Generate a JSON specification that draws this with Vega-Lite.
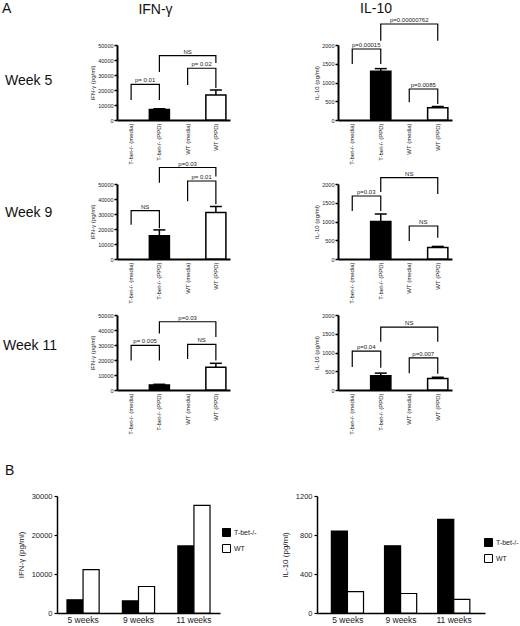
{
  "$schema": "https://vega.github.io/schema/vega-lite/v6.json",
  "autosize": {"type": "none"},
  "padding": {"left": 57, "top": 45, "right": 463, "bottom": 581},
  "background": "white",
  "config": {
    "font": "Liberation Sans",
    "view": {"stroke": null},
    "axis": {"grid": false, "domainColor": "black", "tickColor": "black", "labelColor": "#1a1a1a", "titleColor": "#1a1a1a", "titleFontWeight": "normal"},
    "axisX": {"labelAngle": -90, "ticks": false, "labelFontSize": 6, "domainWidth": 2, "labelPadding": 3},
    "axisY": {"labelFontSize": 5.5, "titleFontSize": 6, "tickSize": 3, "tickWidth": 1.5, "domainWidth": 2, "labelPadding": 1, "titlePadding": 2},
    "title": {"fontWeight": "normal", "color": "#111", "fontSize": 14},
    "text": {"color": "#1a1a1a"}
  },
  "datasets": {
    "A": [
      {"p": "IFN5", "t": "bar", "c": "T-bet-/- (PPD)", "y": 7000},
      {"p": "IFN5", "t": "bar", "c": "WT (PPD)", "y": 16700},
      {"p": "IFN5", "t": "err", "c": "T-bet-/- (PPD)", "y": 7500, "lo": 7000},
      {"p": "IFN5", "t": "err", "c": "WT (PPD)", "y": 20000, "lo": 16700},
      {"p": "IFN5", "t": "br", "id": 1, "k": 1, "c": "T-bet-/- (media)", "y": 13300},
      {"p": "IFN5", "t": "br", "id": 1, "k": 2, "c": "T-bet-/- (media)", "y": 23800},
      {"p": "IFN5", "t": "br", "id": 1, "k": 3, "c": "T-bet-/- (PPD)", "y": 23800},
      {"p": "IFN5", "t": "br", "id": 1, "k": 4, "c": "T-bet-/- (PPD)", "y": 13300},
      {"p": "IFN5", "t": "br", "id": 2, "k": 1, "c": "T-bet-/- (PPD)", "y": 32000},
      {"p": "IFN5", "t": "br", "id": 2, "k": 2, "c": "T-bet-/- (PPD)", "y": 42900},
      {"p": "IFN5", "t": "br", "id": 2, "k": 3, "c": "WT (PPD)", "y": 42900},
      {"p": "IFN5", "t": "br", "id": 2, "k": 4, "c": "WT (PPD)", "y": 38000},
      {"p": "IFN5", "t": "br", "id": 3, "k": 1, "c": "WT (media)", "y": 23300},
      {"p": "IFN5", "t": "br", "id": 3, "k": 2, "c": "WT (media)", "y": 34500},
      {"p": "IFN5", "t": "br", "id": 3, "k": 3, "c": "WT (PPD)", "y": 34500},
      {"p": "IFN5", "t": "br", "id": 3, "k": 4, "c": "WT (PPD)", "y": 21300},
      {"p": "IFN5", "t": "lb", "s": 1, "c": "T-bet-/- (media)", "y": 23800, "txt": "p= 0.01"},
      {"p": "IFN5", "t": "lb", "s": 2, "c": "WT (media)", "y": 42900, "txt": "NS"},
      {"p": "IFN5", "t": "lb", "s": 1, "c": "WT (media)", "y": 34500, "txt": "p= 0.02"},

      {"p": "IFN9", "t": "bar", "c": "T-bet-/- (PPD)", "y": 15500},
      {"p": "IFN9", "t": "bar", "c": "WT (PPD)", "y": 31000},
      {"p": "IFN9", "t": "err", "c": "T-bet-/- (PPD)", "y": 19400, "lo": 15500},
      {"p": "IFN9", "t": "err", "c": "WT (PPD)", "y": 35000, "lo": 31000},
      {"p": "IFN9", "t": "br", "id": 1, "k": 1, "c": "T-bet-/- (media)", "y": 22800},
      {"p": "IFN9", "t": "br", "id": 1, "k": 2, "c": "T-bet-/- (media)", "y": 32200},
      {"p": "IFN9", "t": "br", "id": 1, "k": 3, "c": "T-bet-/- (PPD)", "y": 32200},
      {"p": "IFN9", "t": "br", "id": 1, "k": 4, "c": "T-bet-/- (PPD)", "y": 20500},
      {"p": "IFN9", "t": "br", "id": 2, "k": 1, "c": "WT (media)", "y": 38500},
      {"p": "IFN9", "t": "br", "id": 2, "k": 2, "c": "WT (media)", "y": 52000},
      {"p": "IFN9", "t": "br", "id": 2, "k": 3, "c": "WT (PPD)", "y": 52000},
      {"p": "IFN9", "t": "br", "id": 2, "k": 4, "c": "WT (PPD)", "y": 36500},
      {"p": "IFN9", "t": "br", "id": 3, "k": 1, "c": "T-bet-/- (PPD)", "y": 50900},
      {"p": "IFN9", "t": "br", "id": 3, "k": 2, "c": "T-bet-/- (PPD)", "y": 61000},
      {"p": "IFN9", "t": "br", "id": 3, "k": 3, "c": "WT (PPD)", "y": 61000},
      {"p": "IFN9", "t": "br", "id": 3, "k": 4, "c": "WT (PPD)", "y": 55000},
      {"p": "IFN9", "t": "lb", "s": 1, "c": "T-bet-/- (media)", "y": 32200, "txt": "NS"},
      {"p": "IFN9", "t": "lb", "s": 1, "c": "WT (media)", "y": 52000, "txt": "p= 0.01"},
      {"p": "IFN9", "t": "lb", "s": 2, "c": "WT (media)", "y": 61000, "txt": "p=0.03"},

      {"p": "IFN11", "t": "bar", "c": "T-bet-/- (PPD)", "y": 3400},
      {"p": "IFN11", "t": "bar", "c": "WT (PPD)", "y": 15100},
      {"p": "IFN11", "t": "err", "c": "T-bet-/- (PPD)", "y": 3800, "lo": 3400},
      {"p": "IFN11", "t": "err", "c": "WT (PPD)", "y": 17800, "lo": 15100},
      {"p": "IFN11", "t": "br", "id": 1, "k": 1, "c": "T-bet-/- (media)", "y": 19600},
      {"p": "IFN11", "t": "br", "id": 1, "k": 2, "c": "T-bet-/- (media)", "y": 29700},
      {"p": "IFN11", "t": "br", "id": 1, "k": 3, "c": "T-bet-/- (PPD)", "y": 29700},
      {"p": "IFN11", "t": "br", "id": 1, "k": 4, "c": "T-bet-/- (PPD)", "y": 19600},
      {"p": "IFN11", "t": "br", "id": 2, "k": 1, "c": "WT (media)", "y": 20700},
      {"p": "IFN11", "t": "br", "id": 2, "k": 2, "c": "WT (media)", "y": 30400},
      {"p": "IFN11", "t": "br", "id": 2, "k": 3, "c": "WT (PPD)", "y": 30400},
      {"p": "IFN11", "t": "br", "id": 2, "k": 4, "c": "WT (PPD)", "y": 19600},
      {"p": "IFN11", "t": "br", "id": 3, "k": 1, "c": "T-bet-/- (PPD)", "y": 37600},
      {"p": "IFN11", "t": "br", "id": 3, "k": 2, "c": "T-bet-/- (PPD)", "y": 45500},
      {"p": "IFN11", "t": "br", "id": 3, "k": 3, "c": "WT (PPD)", "y": 45500},
      {"p": "IFN11", "t": "br", "id": 3, "k": 4, "c": "WT (PPD)", "y": 35400},
      {"p": "IFN11", "t": "lb", "s": 1, "c": "T-bet-/- (media)", "y": 29700, "txt": "p= 0.005"},
      {"p": "IFN11", "t": "lb", "s": 1, "c": "WT (media)", "y": 30400, "txt": "NS"},
      {"p": "IFN11", "t": "lb", "s": 2, "c": "WT (media)", "y": 45500, "txt": "p=0.03"},

      {"p": "IL5", "t": "bar", "c": "T-bet-/- (PPD)", "y": 1300},
      {"p": "IL5", "t": "bar", "c": "WT (PPD)", "y": 330},
      {"p": "IL5", "t": "err", "c": "T-bet-/- (PPD)", "y": 1370, "lo": 1300},
      {"p": "IL5", "t": "err", "c": "WT (PPD)", "y": 360, "lo": 330},
      {"p": "IL5", "t": "br", "id": 1, "k": 1, "c": "T-bet-/- (media)", "y": 1493},
      {"p": "IL5", "t": "br", "id": 1, "k": 2, "c": "T-bet-/- (media)", "y": 1893},
      {"p": "IL5", "t": "br", "id": 1, "k": 3, "c": "T-bet-/- (PPD)", "y": 1893},
      {"p": "IL5", "t": "br", "id": 1, "k": 4, "c": "T-bet-/- (PPD)", "y": 1493},
      {"p": "IL5", "t": "br", "id": 2, "k": 1, "c": "T-bet-/- (PPD)", "y": 2115},
      {"p": "IL5", "t": "br", "id": 2, "k": 2, "c": "T-bet-/- (PPD)", "y": 2560},
      {"p": "IL5", "t": "br", "id": 2, "k": 3, "c": "WT (PPD)", "y": 2560},
      {"p": "IL5", "t": "br", "id": 2, "k": 4, "c": "WT (PPD)", "y": 2115},
      {"p": "IL5", "t": "br", "id": 3, "k": 1, "c": "WT (media)", "y": 472},
      {"p": "IL5", "t": "br", "id": 3, "k": 2, "c": "WT (media)", "y": 827},
      {"p": "IL5", "t": "br", "id": 3, "k": 3, "c": "WT (PPD)", "y": 827},
      {"p": "IL5", "t": "br", "id": 3, "k": 4, "c": "WT (PPD)", "y": 427},
      {"p": "IL5", "t": "lb", "s": 1, "c": "T-bet-/- (media)", "y": 1893, "txt": "p=0.00015"},
      {"p": "IL5", "t": "lb", "s": 2, "c": "WT (media)", "y": 2560, "txt": "p=0.00000762"},
      {"p": "IL5", "t": "lb", "s": 1, "c": "WT (media)", "y": 827, "txt": "p=0.0085"},

      {"p": "IL9", "t": "bar", "c": "T-bet-/- (PPD)", "y": 1000},
      {"p": "IL9", "t": "bar", "c": "WT (PPD)", "y": 310},
      {"p": "IL9", "t": "err", "c": "T-bet-/- (PPD)", "y": 1200, "lo": 1000},
      {"p": "IL9", "t": "err", "c": "WT (PPD)", "y": 335, "lo": 310},
      {"p": "IL9", "t": "br", "id": 1, "k": 1, "c": "T-bet-/- (media)", "y": 1280},
      {"p": "IL9", "t": "br", "id": 1, "k": 2, "c": "T-bet-/- (media)", "y": 1680},
      {"p": "IL9", "t": "br", "id": 1, "k": 3, "c": "T-bet-/- (PPD)", "y": 1680},
      {"p": "IL9", "t": "br", "id": 1, "k": 4, "c": "T-bet-/- (PPD)", "y": 1280},
      {"p": "IL9", "t": "br", "id": 2, "k": 1, "c": "T-bet-/- (PPD)", "y": 1787},
      {"p": "IL9", "t": "br", "id": 2, "k": 2, "c": "T-bet-/- (PPD)", "y": 2168},
      {"p": "IL9", "t": "br", "id": 2, "k": 3, "c": "WT (PPD)", "y": 2168},
      {"p": "IL9", "t": "br", "id": 2, "k": 4, "c": "WT (PPD)", "y": 1733},
      {"p": "IL9", "t": "br", "id": 3, "k": 1, "c": "WT (media)", "y": 480},
      {"p": "IL9", "t": "br", "id": 3, "k": 2, "c": "WT (media)", "y": 880},
      {"p": "IL9", "t": "br", "id": 3, "k": 3, "c": "WT (PPD)", "y": 880},
      {"p": "IL9", "t": "br", "id": 3, "k": 4, "c": "WT (PPD)", "y": 568},
      {"p": "IL9", "t": "lb", "s": 1, "c": "T-bet-/- (media)", "y": 1680, "txt": "p=0.03"},
      {"p": "IL9", "t": "lb", "s": 2, "c": "WT (media)", "y": 2168, "txt": "NS"},
      {"p": "IL9", "t": "lb", "s": 1, "c": "WT (media)", "y": 880, "txt": "NS"},

      {"p": "IL11", "t": "bar", "c": "T-bet-/- (PPD)", "y": 380},
      {"p": "IL11", "t": "bar", "c": "WT (PPD)", "y": 310},
      {"p": "IL11", "t": "err", "c": "T-bet-/- (PPD)", "y": 450, "lo": 380},
      {"p": "IL11", "t": "err", "c": "WT (PPD)", "y": 340, "lo": 310},
      {"p": "IL11", "t": "br", "id": 1, "k": 1, "c": "T-bet-/- (media)", "y": 613},
      {"p": "IL11", "t": "br", "id": 1, "k": 2, "c": "T-bet-/- (media)", "y": 1035},
      {"p": "IL11", "t": "br", "id": 1, "k": 3, "c": "T-bet-/- (PPD)", "y": 1035},
      {"p": "IL11", "t": "br", "id": 1, "k": 4, "c": "T-bet-/- (PPD)", "y": 595},
      {"p": "IL11", "t": "br", "id": 2, "k": 1, "c": "T-bet-/- (PPD)", "y": 1288},
      {"p": "IL11", "t": "br", "id": 2, "k": 2, "c": "T-bet-/- (PPD)", "y": 1675},
      {"p": "IL11", "t": "br", "id": 2, "k": 3, "c": "WT (PPD)", "y": 1675},
      {"p": "IL11", "t": "br", "id": 2, "k": 4, "c": "WT (PPD)", "y": 1288},
      {"p": "IL11", "t": "br", "id": 3, "k": 1, "c": "WT (media)", "y": 450},
      {"p": "IL11", "t": "br", "id": 3, "k": 2, "c": "WT (media)", "y": 856},
      {"p": "IL11", "t": "br", "id": 3, "k": 3, "c": "WT (PPD)", "y": 856},
      {"p": "IL11", "t": "br", "id": 3, "k": 4, "c": "WT (PPD)", "y": 432},
      {"p": "IL11", "t": "lb", "s": 1, "c": "T-bet-/- (media)", "y": 1035, "txt": "p=0.04"},
      {"p": "IL11", "t": "lb", "s": 2, "c": "WT (media)", "y": 1675, "txt": "NS"},
      {"p": "IL11", "t": "lb", "s": 1, "c": "WT (media)", "y": 856, "txt": "p=0.007"}
    ],
    "B": [
      {"p": "IFN", "w": "5 weeks", "g": "T-bet-/-", "v": 3400},
      {"p": "IFN", "w": "5 weeks", "g": "WT", "v": 11100},
      {"p": "IFN", "w": "9 weeks", "g": "T-bet-/-", "v": 3100},
      {"p": "IFN", "w": "9 weeks", "g": "WT", "v": 6800},
      {"p": "IFN", "w": "11 weeks", "g": "T-bet-/-", "v": 17200},
      {"p": "IFN", "w": "11 weeks", "g": "WT", "v": 27600},
      {"p": "IL", "w": "5 weeks", "g": "T-bet-/-", "v": 840},
      {"p": "IL", "w": "5 weeks", "g": "WT", "v": 220},
      {"p": "IL", "w": "9 weeks", "g": "T-bet-/-", "v": 690},
      {"p": "IL", "w": "9 weeks", "g": "WT", "v": 200},
      {"p": "IL", "w": "11 weeks", "g": "T-bet-/-", "v": 960},
      {"p": "IL", "w": "11 weeks", "g": "WT", "v": 140}
    ],
    "none": [{"z": 0}]
  },
  "columns": 4,
  "spacing": 0,
  "bounds": "flush",
  "align": "each",
  "resolve": {"scale": {"fill": "independent"}, "legend": {"fill": "independent"}},
  "concat": [
    {"width": 60, "height": 75, "data": {"name": "none"}, "mark": {"type": "point", "opacity": 0},
     "title": {"text": "Week 5", "anchor": "start", "frame": "group", "offset": -43, "dx": -52}},
    {
      "width": 113, "height": 75,
      "title": {"text": "IFN-γ", "anchor": "middle", "frame": "group", "offset": 26, "dx": -18},
      "data": {"name": "A"},
      "transform": [{"filter": "datum.p == 'IFN5'"}],
      "encoding": {
        "x": {"field": "c", "type": "nominal", "scale": {"domain": ["T-bet-/- (media)", "T-bet-/- (PPD)", "WT (media)", "WT (PPD)"], "paddingInner": 0.29, "paddingOuter": 0.145}, "axis": {"title": null}},
        "y": {"field": "y", "type": "quantitative", "scale": {"domain": [0, 50000], "nice": false}, "axis": {"title": "IFN-γ (pg/ml)", "values": [0, 10000, 20000, 30000, 40000, 50000], "format": "d"}}
      },
      "layer": [
        {"transform": [{"filter": "datum.t == 'bar'"}], "mark": {"type": "bar", "stroke": "black", "strokeWidth": 1.5}, "encoding": {"fill": {"condition": {"test": "indexof(datum.c, 'T-bet') == 0", "value": "black"}, "value": "white"}}},
        {"transform": [{"filter": "datum.t == 'err'"}], "mark": {"type": "rule", "color": "black", "strokeWidth": 1.5}, "encoding": {"y2": {"field": "lo"}}},
        {"transform": [{"filter": "datum.t == 'err'"}], "mark": {"type": "tick", "color": "black", "size": 12, "thickness": 1.5, "opacity": 1}},
        {"transform": [{"filter": "datum.t == 'br'"}], "mark": {"type": "line", "color": "black", "strokeWidth": 1.2}, "encoding": {"detail": {"field": "id"}, "order": {"field": "k"}}},
        {"transform": [{"filter": "datum.t == 'lb' && datum.s == 1"}], "mark": {"type": "text", "fontSize": 6, "baseline": "bottom", "dx": 14, "dy": -1}, "encoding": {"text": {"field": "txt"}}},
        {"transform": [{"filter": "datum.t == 'lb' && datum.s == 2"}], "mark": {"type": "text", "fontSize": 6, "baseline": "bottom", "dy": -1}, "encoding": {"text": {"field": "txt"}}}
      ]
    },
    {"width": 108, "height": 75, "data": {"name": "none"}, "mark": {"type": "point", "opacity": 0},
     "title": {"text": "A", "anchor": "start", "frame": "group", "offset": 29, "dx": -228}},
    {
      "width": 114, "height": 75,
      "title": {"text": "IL-10", "anchor": "middle", "frame": "group", "offset": 1, "dx": -19},
      "data": {"name": "A"},
      "transform": [{"filter": "datum.p == 'IL5'"}],
      "encoding": {
        "x": {"field": "c", "type": "nominal", "scale": {"domain": ["T-bet-/- (media)", "T-bet-/- (PPD)", "WT (media)", "WT (PPD)"], "paddingInner": 0.29, "paddingOuter": 0.145}, "axis": {"title": null}},
        "y": {"field": "y", "type": "quantitative", "scale": {"domain": [0, 2000], "nice": false}, "axis": {"title": "IL-10 (pg/ml)", "values": [0, 500, 1000, 1500, 2000], "format": "d"}}
      },
      "layer": [
        {"transform": [{"filter": "datum.t == 'bar'"}], "mark": {"type": "bar", "stroke": "black", "strokeWidth": 1.5}, "encoding": {"fill": {"condition": {"test": "indexof(datum.c, 'T-bet') == 0", "value": "black"}, "value": "white"}}},
        {"transform": [{"filter": "datum.t == 'err'"}], "mark": {"type": "rule", "color": "black", "strokeWidth": 1.5}, "encoding": {"y2": {"field": "lo"}}},
        {"transform": [{"filter": "datum.t == 'err'"}], "mark": {"type": "tick", "color": "black", "size": 12, "thickness": 1.5, "opacity": 1}},
        {"transform": [{"filter": "datum.t == 'br'"}], "mark": {"type": "line", "color": "black", "strokeWidth": 1.2}, "encoding": {"detail": {"field": "id"}, "order": {"field": "k"}}},
        {"transform": [{"filter": "datum.t == 'lb' && datum.s == 1"}], "mark": {"type": "text", "fontSize": 6, "baseline": "bottom", "dx": 14, "dy": -1}, "encoding": {"text": {"field": "txt"}}},
        {"transform": [{"filter": "datum.t == 'lb' && datum.s == 2"}], "mark": {"type": "text", "fontSize": 6, "baseline": "bottom", "dy": -1}, "encoding": {"text": {"field": "txt"}}}
      ]
    },

    {"width": 1, "height": 64, "data": {"name": "none"}, "mark": {"type": "point", "opacity": 0}},
    {"width": 1, "height": 64, "data": {"name": "none"}, "mark": {"type": "point", "opacity": 0}},
    {"width": 1, "height": 64, "data": {"name": "none"}, "mark": {"type": "point", "opacity": 0}},
    {"width": 1, "height": 64, "data": {"name": "none"}, "mark": {"type": "point", "opacity": 0}},

    {"width": 60, "height": 75, "data": {"name": "none"}, "mark": {"type": "point", "opacity": 0},
     "title": {"text": "Week 9", "anchor": "start", "frame": "group", "offset": -36, "dx": -52}},
    {
      "width": 113, "height": 75,
      "data": {"name": "A"},
      "transform": [{"filter": "datum.p == 'IFN9'"}],
      "encoding": {
        "x": {"field": "c", "type": "nominal", "scale": {"domain": ["T-bet-/- (media)", "T-bet-/- (PPD)", "WT (media)", "WT (PPD)"], "paddingInner": 0.29, "paddingOuter": 0.145}, "axis": {"title": null}},
        "y": {"field": "y", "type": "quantitative", "scale": {"domain": [0, 50000], "nice": false}, "axis": {"title": "IFN-γ (pg/ml)", "values": [0, 10000, 20000, 30000, 40000, 50000], "format": "d"}}
      },
      "layer": [
        {"transform": [{"filter": "datum.t == 'bar'"}], "mark": {"type": "bar", "stroke": "black", "strokeWidth": 1.5}, "encoding": {"fill": {"condition": {"test": "indexof(datum.c, 'T-bet') == 0", "value": "black"}, "value": "white"}}},
        {"transform": [{"filter": "datum.t == 'err'"}], "mark": {"type": "rule", "color": "black", "strokeWidth": 1.5}, "encoding": {"y2": {"field": "lo"}}},
        {"transform": [{"filter": "datum.t == 'err'"}], "mark": {"type": "tick", "color": "black", "size": 12, "thickness": 1.5, "opacity": 1}},
        {"transform": [{"filter": "datum.t == 'br'"}], "mark": {"type": "line", "color": "black", "strokeWidth": 1.2}, "encoding": {"detail": {"field": "id"}, "order": {"field": "k"}}},
        {"transform": [{"filter": "datum.t == 'lb' && datum.s == 1"}], "mark": {"type": "text", "fontSize": 6, "baseline": "bottom", "dx": 14, "dy": -1}, "encoding": {"text": {"field": "txt"}}},
        {"transform": [{"filter": "datum.t == 'lb' && datum.s == 2"}], "mark": {"type": "text", "fontSize": 6, "baseline": "bottom", "dy": -1}, "encoding": {"text": {"field": "txt"}}}
      ]
    },
    {"width": 108, "height": 75, "data": {"name": "none"}, "mark": {"type": "point", "opacity": 0}},
    {
      "width": 114, "height": 75,
      "data": {"name": "A"},
      "transform": [{"filter": "datum.p == 'IL9'"}],
      "encoding": {
        "x": {"field": "c", "type": "nominal", "scale": {"domain": ["T-bet-/- (media)", "T-bet-/- (PPD)", "WT (media)", "WT (PPD)"], "paddingInner": 0.29, "paddingOuter": 0.145}, "axis": {"title": null}},
        "y": {"field": "y", "type": "quantitative", "scale": {"domain": [0, 2000], "nice": false}, "axis": {"title": "IL-10 (pg/ml)", "values": [0, 500, 1000, 1500, 2000], "format": "d"}}
      },
      "layer": [
        {"transform": [{"filter": "datum.t == 'bar'"}], "mark": {"type": "bar", "stroke": "black", "strokeWidth": 1.5}, "encoding": {"fill": {"condition": {"test": "indexof(datum.c, 'T-bet') == 0", "value": "black"}, "value": "white"}}},
        {"transform": [{"filter": "datum.t == 'err'"}], "mark": {"type": "rule", "color": "black", "strokeWidth": 1.5}, "encoding": {"y2": {"field": "lo"}}},
        {"transform": [{"filter": "datum.t == 'err'"}], "mark": {"type": "tick", "color": "black", "size": 12, "thickness": 1.5, "opacity": 1}},
        {"transform": [{"filter": "datum.t == 'br'"}], "mark": {"type": "line", "color": "black", "strokeWidth": 1.2}, "encoding": {"detail": {"field": "id"}, "order": {"field": "k"}}},
        {"transform": [{"filter": "datum.t == 'lb' && datum.s == 1"}], "mark": {"type": "text", "fontSize": 6, "baseline": "bottom", "dx": 14, "dy": -1}, "encoding": {"text": {"field": "txt"}}},
        {"transform": [{"filter": "datum.t == 'lb' && datum.s == 2"}], "mark": {"type": "text", "fontSize": 6, "baseline": "bottom", "dy": -1}, "encoding": {"text": {"field": "txt"}}}
      ]
    },

    {"width": 1, "height": 56, "data": {"name": "none"}, "mark": {"type": "point", "opacity": 0}},
    {"width": 1, "height": 56, "data": {"name": "none"}, "mark": {"type": "point", "opacity": 0}},
    {"width": 1, "height": 56, "data": {"name": "none"}, "mark": {"type": "point", "opacity": 0}},
    {"width": 1, "height": 56, "data": {"name": "none"}, "mark": {"type": "point", "opacity": 0}},

    {"width": 60, "height": 75, "data": {"name": "none"}, "mark": {"type": "point", "opacity": 0},
     "title": {"text": "Week 11", "anchor": "start", "frame": "group", "offset": -38, "dx": -54}},
    {
      "width": 113, "height": 75,
      "data": {"name": "A"},
      "transform": [{"filter": "datum.p == 'IFN11'"}],
      "encoding": {
        "x": {"field": "c", "type": "nominal", "scale": {"domain": ["T-bet-/- (media)", "T-bet-/- (PPD)", "WT (media)", "WT (PPD)"], "paddingInner": 0.29, "paddingOuter": 0.145}, "axis": {"title": null}},
        "y": {"field": "y", "type": "quantitative", "scale": {"domain": [0, 50000], "nice": false}, "axis": {"title": "IFN-γ (pg/ml)", "values": [0, 10000, 20000, 30000, 40000, 50000], "format": "d"}}
      },
      "layer": [
        {"transform": [{"filter": "datum.t == 'bar'"}], "mark": {"type": "bar", "stroke": "black", "strokeWidth": 1.5}, "encoding": {"fill": {"condition": {"test": "indexof(datum.c, 'T-bet') == 0", "value": "black"}, "value": "white"}}},
        {"transform": [{"filter": "datum.t == 'err'"}], "mark": {"type": "rule", "color": "black", "strokeWidth": 1.5}, "encoding": {"y2": {"field": "lo"}}},
        {"transform": [{"filter": "datum.t == 'err'"}], "mark": {"type": "tick", "color": "black", "size": 12, "thickness": 1.5, "opacity": 1}},
        {"transform": [{"filter": "datum.t == 'br'"}], "mark": {"type": "line", "color": "black", "strokeWidth": 1.2}, "encoding": {"detail": {"field": "id"}, "order": {"field": "k"}}},
        {"transform": [{"filter": "datum.t == 'lb' && datum.s == 1"}], "mark": {"type": "text", "fontSize": 6, "baseline": "bottom", "dx": 14, "dy": -1}, "encoding": {"text": {"field": "txt"}}},
        {"transform": [{"filter": "datum.t == 'lb' && datum.s == 2"}], "mark": {"type": "text", "fontSize": 6, "baseline": "bottom", "dy": -1}, "encoding": {"text": {"field": "txt"}}}
      ]
    },
    {"width": 108, "height": 75, "data": {"name": "none"}, "mark": {"type": "point", "opacity": 0}},
    {
      "width": 114, "height": 75,
      "data": {"name": "A"},
      "transform": [{"filter": "datum.p == 'IL11'"}],
      "encoding": {
        "x": {"field": "c", "type": "nominal", "scale": {"domain": ["T-bet-/- (media)", "T-bet-/- (PPD)", "WT (media)", "WT (PPD)"], "paddingInner": 0.29, "paddingOuter": 0.145}, "axis": {"title": null}},
        "y": {"field": "y", "type": "quantitative", "scale": {"domain": [0, 2000], "nice": false}, "axis": {"title": "IL-10 (pg/ml)", "values": [0, 500, 1000, 1500, 2000], "format": "d"}}
      },
      "layer": [
        {"transform": [{"filter": "datum.t == 'bar'"}], "mark": {"type": "bar", "stroke": "black", "strokeWidth": 1.5}, "encoding": {"fill": {"condition": {"test": "indexof(datum.c, 'T-bet') == 0", "value": "black"}, "value": "white"}}},
        {"transform": [{"filter": "datum.t == 'err'"}], "mark": {"type": "rule", "color": "black", "strokeWidth": 1.5}, "encoding": {"y2": {"field": "lo"}}},
        {"transform": [{"filter": "datum.t == 'err'"}], "mark": {"type": "tick", "color": "black", "size": 12, "thickness": 1.5, "opacity": 1}},
        {"transform": [{"filter": "datum.t == 'br'"}], "mark": {"type": "line", "color": "black", "strokeWidth": 1.2}, "encoding": {"detail": {"field": "id"}, "order": {"field": "k"}}},
        {"transform": [{"filter": "datum.t == 'lb' && datum.s == 1"}], "mark": {"type": "text", "fontSize": 6, "baseline": "bottom", "dx": 14, "dy": -1}, "encoding": {"text": {"field": "txt"}}},
        {"transform": [{"filter": "datum.t == 'lb' && datum.s == 2"}], "mark": {"type": "text", "fontSize": 6, "baseline": "bottom", "dy": -1}, "encoding": {"text": {"field": "txt"}}}
      ]
    },

    {"width": 1, "height": 106, "data": {"name": "none"}, "mark": {"type": "point", "opacity": 0}},
    {"width": 1, "height": 106, "data": {"name": "none"}, "mark": {"type": "point", "opacity": 0}},
    {"width": 1, "height": 106, "data": {"name": "none"}, "mark": {"type": "point", "opacity": 0}},
    {"width": 1, "height": 106, "data": {"name": "none"}, "mark": {"type": "point", "opacity": 0}},

    {
      "width": 60, "height": 117,
      "title": {"text": "B", "anchor": "start", "frame": "group", "dx": -52, "offset": 14},
      "data": {"name": "B"},
      "transform": [{"filter": "datum.p == 'IFN'"}],
      "mark": {"type": "bar", "stroke": "black", "strokeWidth": 1.2},
      "encoding": {
        "x": {"field": "w", "type": "nominal", "sort": ["5 weeks", "9 weeks", "11 weeks"], "scale": {"range": [0, 163], "paddingInner": 0.42, "paddingOuter": 0.18}, "axis": {"title": null, "labelAngle": 0, "labelFontSize": 8.5, "labelPadding": 2, "domainWidth": 1.5}},
        "xOffset": {"field": "g", "sort": ["T-bet-/-", "WT"]},
        "y": {"field": "v", "type": "quantitative", "scale": {"domain": [0, 30000], "nice": false}, "axis": {"title": "IFN-γ (pg/ml)", "values": [0, 10000, 20000, 30000], "format": "d", "labelFontSize": 7.5, "titleFontSize": 8, "tickSize": 3, "tickWidth": 1.2, "domainWidth": 1.5, "labelPadding": 2, "titlePadding": 6}},
        "fill": {"field": "g", "type": "nominal", "scale": {"domain": ["T-bet-/-", "WT"], "range": ["black", "white"]}, "legend": {"title": null, "orient": "none", "legendX": 165, "legendY": 32, "symbolType": "square", "symbolStrokeColor": "black", "symbolStrokeWidth": 1, "symbolSize": 64, "labelFontSize": 7, "labelOffset": 3, "labelColor": "#1a1a1a", "rowPadding": 3}}
      }
    },
    {"width": 113, "height": 117, "data": {"name": "none"}, "mark": {"type": "point", "opacity": 0}},
    {"width": 108, "height": 117, "data": {"name": "none"}, "mark": {"type": "point", "opacity": 0}},
    {
      "width": 146, "height": 117,
      "data": {"name": "B"},
      "transform": [{"filter": "datum.p == 'IL'"}],
      "mark": {"type": "bar", "stroke": "black", "strokeWidth": 1.2},
      "encoding": {
        "x": {"field": "w", "type": "nominal", "sort": ["5 weeks", "9 weeks", "11 weeks"], "scale": {"range": [-21, 147], "paddingInner": 0.38, "paddingOuter": 0.27}, "axis": {"title": null, "labelAngle": 0, "labelFontSize": 8.5, "labelPadding": 2, "domainWidth": 1.5}},
        "xOffset": {"field": "g", "sort": ["T-bet-/-", "WT"]},
        "y": {"field": "v", "type": "quantitative", "scale": {"domain": [0, 1200], "nice": false}, "axis": {"title": "IL-10 (pg/ml)", "offset": 21, "values": [0, 400, 800, 1200], "format": "d", "labelFontSize": 7.5, "titleFontSize": 8, "tickSize": 3, "tickWidth": 1.2, "domainWidth": 1.5, "labelPadding": 2, "titlePadding": 6}},
        "fill": {"field": "g", "type": "nominal", "scale": {"domain": ["T-bet-/-", "WT"], "range": ["black", "white"]}, "legend": {"title": null, "orient": "none", "legendX": 146, "legendY": 42, "symbolType": "square", "symbolStrokeColor": "black", "symbolStrokeWidth": 1, "symbolSize": 64, "labelFontSize": 7, "labelOffset": 3, "labelColor": "#1a1a1a", "rowPadding": 3}}
      }
    }
  ]
}
